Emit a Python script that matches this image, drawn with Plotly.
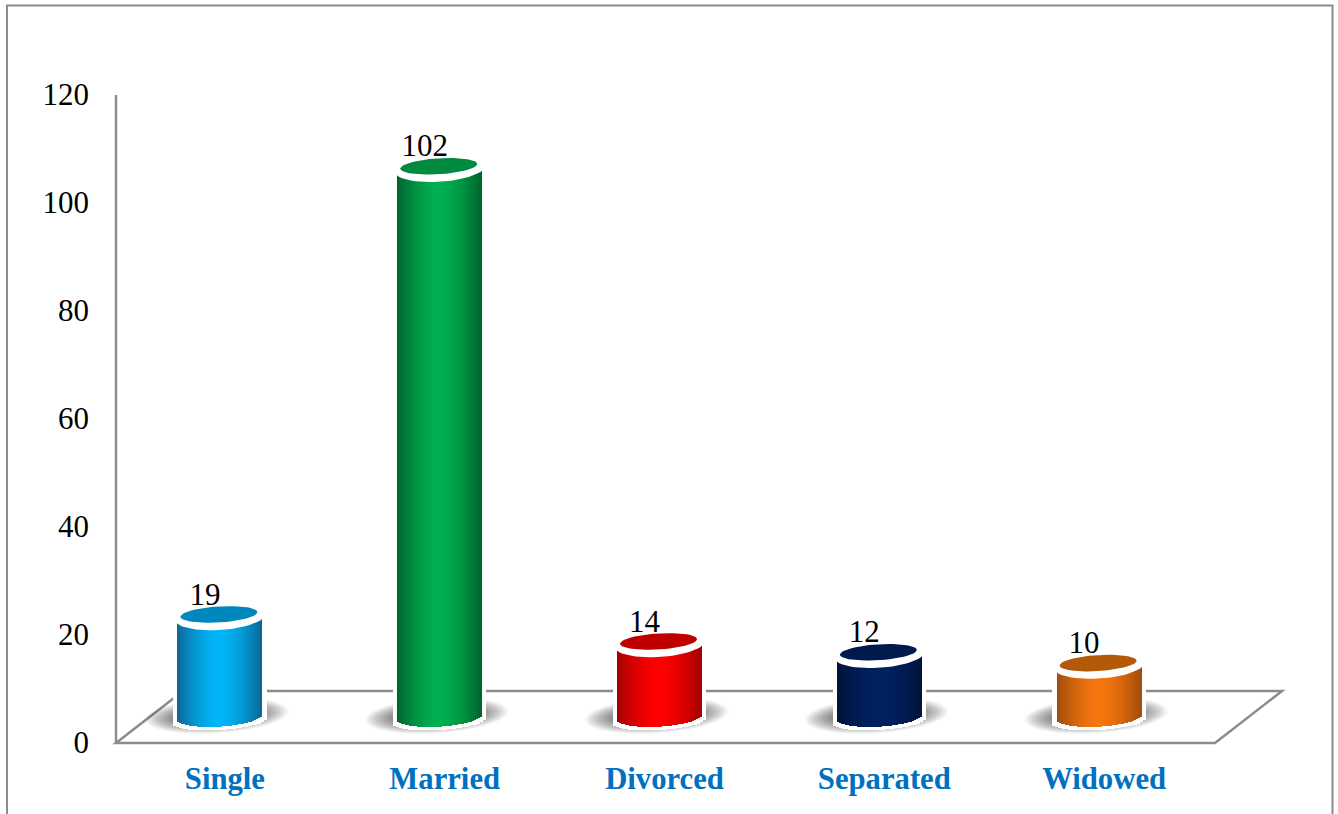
import numpy as np
import plotly.graph_objects as go

categories = ["Single", "Married", "Divorced", "Separated", "Widowed"]
values = [19, 102, 14, 12, 10]
y_ticks = [0, 20, 40, 60, 80, 100, 120]

center_colors = ["#00B6F8", "#00B050", "#FF0000", "#002060", "#F6760E"]
edge_colors = ["#0A6A9A", "#00662F", "#A80000", "#00143C", "#A34E0A"]
top_colors = ["#0087BB", "#008A40", "#C00000", "#001A4D", "#B45909"]

GREY = "#8C8C8C"
LABEL_BLUE = "#0070C0"
FONT = "Liberation Serif"

###page geometry in pixels###
W, H = 1338, 814
LEFT, RIGHT, TOP, BOTTOM = 116, 1282, 95, 743
PX_X = 219.8  # one category
PX_Y = (BOTTOM - TOP) / 120
X_MAX = -0.5 + (RIGHT - LEFT) / PX_X

BAR_BASE = 4.8  # the bars stand back on the floor
SHIFT = -6 / PX_X
HALF = 42 / PX_X
B_MINOR = 9.5 / PX_Y
TILT = 0.06 * PX_X / PX_Y


def hex_rgb(c):
    return np.array([int(c[i:i + 2], 16) for i in (1, 3, 5)], dtype=float)


def mix(a, b, t):
    r, g, bl = hex_rgb(a) * (1 - t) + hex_rgb(b) * t
    return f"rgb({r:.0f},{g:.0f},{bl:.0f})"


###ellipse outline in data units, tilted like the original 3D bars###
def ellipse(cx, cy, a, b, n=60):
    t = np.linspace(0, 2 * np.pi, n)
    dx = a * np.cos(t)
    return cx + dx, cy + b * np.sin(t) + TILT * dx


def ellipse_path(cx, cy, a, b):
    xs, ys = ellipse(cx, cy, a, b)
    pts = [f"{x:.4f},{y:.4f}" for x, y in zip(xs, ys)]
    return "M " + " L ".join(pts) + " Z"


###one narrow bar per slice gives the cylinder its horizontal gradient###
def body_trace(cx, val, half, bottom_extra, colors):
    n = len(colors)
    step = 2 * half / n
    xs = cx - half + step * (np.arange(n) + 0.5)
    dx = xs - cx
    arc = np.sqrt(np.clip(1 - (dx / half) ** 2, 0, 1))
    bottom = BAR_BASE + TILT * dx - B_MINOR * arc - bottom_extra
    top = BAR_BASE + val + TILT * dx
    return go.Bar(
        x=xs, y=top - bottom, base=bottom,
        width=step * 1.5,
        marker=dict(color=colors, line_width=0),
        hoverinfo="skip", showlegend=False,
    )


fig = go.Figure()
shapes = []

###frame and floor are page furniture###
def paper_x(px):
    return (px - LEFT) / (RIGHT - LEFT)


def paper_y(px):
    return (BOTTOM - px) / (BOTTOM - TOP)


shapes.append(dict(
    type="path", xref="paper", yref="paper", layer="below",
    path=f"M {paper_x(7)},{paper_y(814)} L {paper_x(7)},{paper_y(5.5)} "
         f"L {paper_x(1332.5)},{paper_y(5.5)} L {paper_x(1332.5)},{paper_y(814)}",
    line=dict(color=GREY, width=2),
))
shapes.append(dict(
    type="path", xref="paper", yref="paper", layer="below",
    path=f"M {paper_x(116)},{paper_y(743)} L {paper_x(183)},{paper_y(691)} "
         f"L {paper_x(1282)},{paper_y(691)} L {paper_x(1215)},{paper_y(743)} Z",
    line=dict(color=GREY, width=2.5),
))
# value axis
shapes.append(dict(
    type="line", xref="paper", yref="paper", layer="below",
    x0=paper_x(116), x1=paper_x(116), y0=paper_y(743), y1=paper_y(95),
    line=dict(color=GREY, width=2.5),
))

for i, val in enumerate(values):
    cx = i + SHIFT

    # soft shadow under the cylinder
    steps = 30
    for k in range(steps):
        f = 1 - k / steps
        shapes.append(dict(
            type="path", xref="x", yref="y", layer="below",
            path=ellipse_path(cx - 3 / PX_X, BAR_BASE + 0.3, (72 * f + 40 * (1 - f)) / PX_X, (18 * f + 7 * (1 - f)) / PX_Y),
            fillcolor="rgba(0,0,0,0.02)", line_width=0,
        ))

    # white rim behind the body, then the shaded body
    fig.add_trace(body_trace(cx, val, HALF + 4 / PX_X, 3.5 / PX_Y, ["#FFFFFF"] * 30))
    t = np.linspace(-1, 1, 42)
    shade = [mix(center_colors[i], edge_colors[i], abs(v) ** 1.6) for v in t]
    fig.add_trace(body_trace(cx, val, HALF, 0, shade))

    # top of the cylinder: white rim with the darker lid on it
    xs, ys = ellipse(cx, BAR_BASE + val - 2.5 / PX_Y, 45 / PX_X, 13 / PX_Y)
    fig.add_trace(go.Scatter(x=xs, y=ys, mode="lines", fill="toself", fillcolor="#FFFFFF",
                             line=dict(color="#FFFFFF", width=0), hoverinfo="skip", showlegend=False))
    xs, ys = ellipse(cx - 1 / PX_X, BAR_BASE + val, 38.5 / PX_X, 8 / PX_Y)
    fig.add_trace(go.Scatter(x=xs, y=ys, mode="lines", fill="toself", fillcolor=top_colors[i],
                             line=dict(color=top_colors[i], width=0), hoverinfo="skip", showlegend=False))

###value labels, up and left of each bar top###
fig.add_trace(go.Scatter(
    x=[i + SHIFT - 15 / PX_X for i in range(len(values))],
    y=[BAR_BASE + v + 3.25 for v in values],
    mode="text",
    text=[str(v) for v in values],
    textposition="middle center",
    textfont=dict(family=FONT, size=31, color="black"),
    hoverinfo="skip", showlegend=False,
))

fig.update_layout(
    width=W, height=H,
    margin=dict(l=LEFT, r=W - RIGHT, t=TOP, b=H - BOTTOM, pad=0),
    paper_bgcolor="white", plot_bgcolor="white",
    barmode="overlay", bargap=0,
    showlegend=False, hovermode=False,
    shapes=shapes,
    font=dict(family=FONT),
)
fig.update_xaxes(
    range=[-0.5, X_MAX],
    tickmode="array", tickvals=list(range(len(categories))), ticktext=categories,
    tickfont=dict(family=FONT, size=30.7, color=LABEL_BLUE, weight="bold"),
    ticks="", ticklabelstandoff=14, ticklabelshift=-1,
    showgrid=False, zeroline=False, showline=False,
)
fig.update_yaxes(
    range=[0, 120],
    tickmode="array", tickvals=y_ticks,
    tickfont=dict(family=FONT, size=31, color="black"),
    ticks="", ticklabelstandoff=26, ticklabelshift=-1,
    showgrid=False, zeroline=False, showline=False,
)

fig.write_html("out.html", config={"displayModeBar": False},
               post_script="document.body.style.margin='0';")
